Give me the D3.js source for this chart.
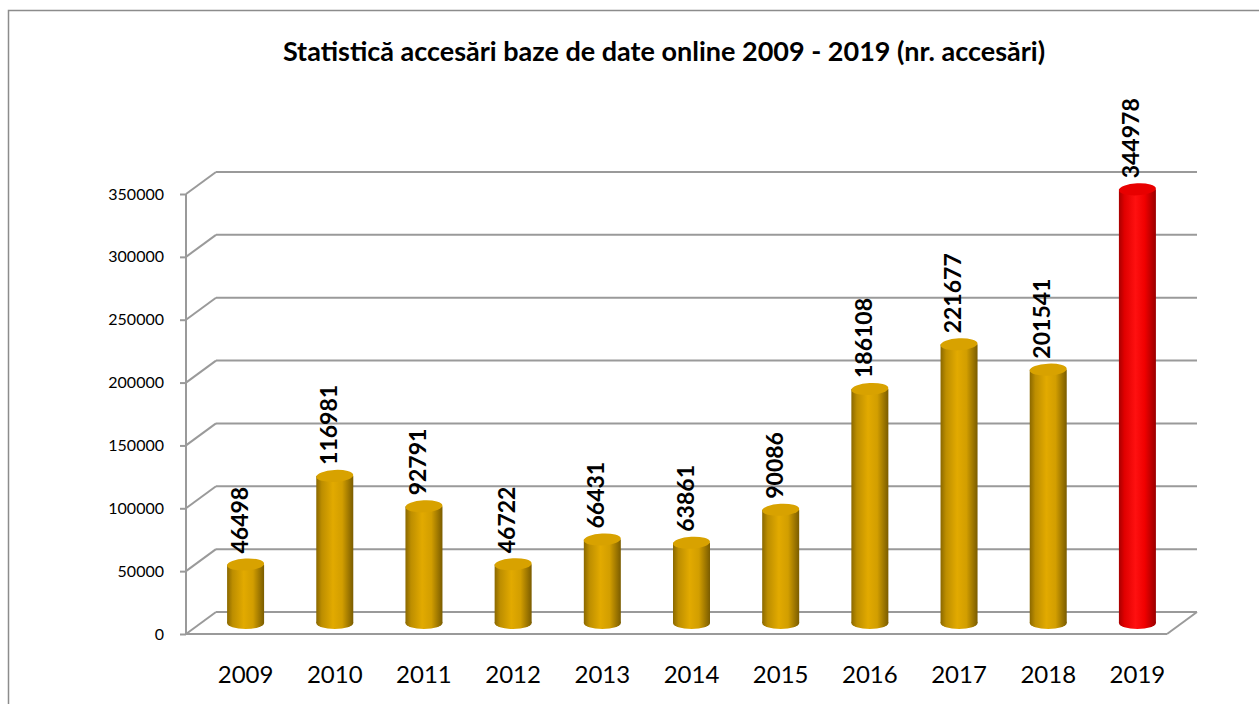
<!doctype html>
<html>
<head>
<meta charset="UTF-8">
<title>Statistică accesări</title>
<script src="https://cdn.jsdelivr.net/npm/d3@7"></script>
<style>
  body { margin: 0; background: #fff; }
  text { font-family: Lato, "Liberation Sans", sans-serif; fill: #000; }
</style>
</head>
<body>
<script>
// data
var years = ["2009","2010","2011","2012","2013","2014","2015","2016","2017","2018","2019"];
var accesari = [46498,116981,92791,46722,66431,63861,90086,186108,221677,201541,344978];
var yTicks = [0,50000,100000,150000,200000,250000,300000,350000];
var title = "Statistică accesări baze de date online 2009 - 2019 (nr. accesări)";

var W = 1259, H = 704;
var depthX = 30, depthY = -22;

var svg = d3.select("body").append("svg").attr("width", W).attr("height", H);

svg.append("rect").attr("x", 8.5).attr("y", 10.5).attr("width", W + 10).attr("height", H + 10)
  .attr("fill", "#fff").attr("stroke", "#8c8c8c").attr("stroke-width", 1.5);

svg.append("text").attr("x", 664).attr("y", 61).attr("text-anchor", "middle")
  .attr("font-size", 27).attr("font-weight", "bold").text(title);

var x = d3.scaleBand().domain(years).range([186, 1167]);
var yFront = d3.scaleLinear().domain([0, 350000]).range([634, 194]);
var yBack = d3.scaleLinear().domain([0, 350000]).range([612, 172]);
var yMid = d3.scaleLinear().domain([0, 350000]).range([623, 183]);

var grid = "#9a9a9a";
var walls = svg.append("g");

// back wall gridlines + left side wall
yTicks.forEach(function(t){
  walls.append("line").attr("x1", 186 + depthX).attr("x2", 1167 + depthX)
    .attr("y1", yBack(t)).attr("y2", yBack(t)).attr("stroke", grid).attr("stroke-width", 2);
  walls.append("line").attr("x1", 186).attr("x2", 186 + depthX)
    .attr("y1", yFront(t)).attr("y2", yBack(t)).attr("stroke", grid).attr("stroke-width", 2);
});
// floor
walls.append("line").attr("x1", 186).attr("x2", 1167).attr("y1", yFront(0)).attr("y2", yFront(0))
  .attr("stroke", grid).attr("stroke-width", 2);
walls.append("line").attr("x1", 1167).attr("x2", 1167 + depthX).attr("y1", yFront(0)).attr("y2", yBack(0))
  .attr("stroke", grid).attr("stroke-width", 2);

// y axis
var yAxis = svg.append("g").attr("transform", "translate(186,0)")
  .call(d3.axisLeft(yFront).tickValues(yTicks).tickSize(6).tickPadding(16).tickFormat(d3.format("d")));
yAxis.select(".domain").attr("stroke", grid).attr("stroke-width", 2).attr("d", "M0," + yFront(350000) + "V" + yFront(0));
yAxis.selectAll(".tick line").attr("stroke", grid).attr("stroke-width", 2);
yAxis.selectAll("text").attr("font-size", 16).attr("fill", "#000");

// x labels
svg.append("g").selectAll("text").data(years).join("text")
  .attr("x", function(d){ return x(d) + x.bandwidth() / 2 + 15; })
  .attr("y", 683).attr("text-anchor", "middle").attr("font-size", 24).text(function(d){ return d; });

// gradients
var defs = svg.append("defs");
function grad(id, stops) {
  var g = defs.append("linearGradient").attr("id", id).attr("x1", 0).attr("x2", 1).attr("y1", 0).attr("y2", 0);
  stops.forEach(function(s){ g.append("stop").attr("offset", s[0]).attr("stop-color", s[1]); });
}
grad("gold", [[0, "#8a6800"], [0.15, "#bd8e00"], [0.45, "#e2aa00"], [0.7, "#d29e00"], [1, "#7a5c00"]]);
grad("red", [[0, "#a80000"], [0.15, "#e00000"], [0.45, "#ff1010"], [0.7, "#f00000"], [1, "#9a0000"]]);

var bw = 37, ry = 6;
var bars = svg.append("g").selectAll("g").data(accesari).join("g");
bars.each(function(v, i){
  var g = d3.select(this);
  var cx = x(years[i]) + x.bandwidth() / 2 + depthX / 2;
  var top = yMid(v), base = yMid(0);
  var isLast = i === years.length - 1;
  var fill = isLast ? "url(#red)" : "url(#gold)";
  g.append("ellipse").attr("cx", cx).attr("cy", base).attr("rx", bw / 2).attr("ry", ry).attr("fill", fill);
  g.append("rect").attr("x", cx - bw / 2).attr("y", top).attr("width", bw).attr("height", base - top).attr("fill", fill);
  g.append("ellipse").attr("cx", cx).attr("cy", top).attr("rx", bw / 2).attr("ry", ry)
    .attr("transform", "rotate(-3," + cx + "," + top + ")")
    .attr("fill", isLast ? "#e80000" : "#d8a200");
  g.append("text").attr("transform", "translate(" + (cx - 6) + "," + (top - 11) + ") rotate(-90)")
    .attr("dy", "0.35em").attr("font-size", 23).attr("font-weight", "bold").text(v);
});
</script>
</body>
</html>
